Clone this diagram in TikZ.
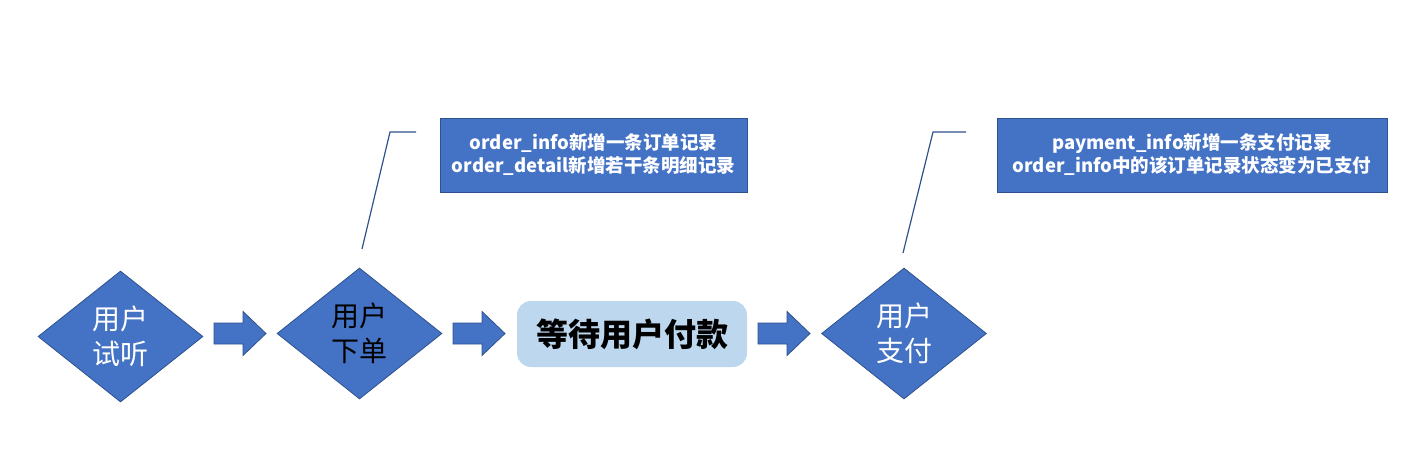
\documentclass[tikz,border=0pt]{standalone}
\usepackage{fontspec}
\setmainfont{Noto Sans CJK SC}
\usetikzlibrary{shapes.geometric}
\definecolor{fillblue}{HTML}{4472C4}
\definecolor{edgeblue}{HTML}{2F528F}
\definecolor{lightblue}{HTML}{BDD7EE}
\begin{document}
\begin{tikzpicture}[x=1pt,y=-1pt,
  decision/.style={diamond, fill=fillblue, draw=edgeblue, line width=0.8pt,
    minimum width=165pt, minimum height=131pt, inner sep=0pt,
    font=\fontsize{28}{35}\selectfont, align=center},
  blockarrow/.style={fill=fillblue, draw=edgeblue, line width=0.8pt},
  note/.style={rectangle, fill=fillblue, draw=edgeblue, line width=1pt, text=white,
    font=\bfseries\fontsize{18.5}{23}\selectfont, align=center, inner sep=0pt},
  waitbox/.style={rectangle, rounded corners=14pt, fill=lightblue, draw=none,
    minimum width=230pt, minimum height=66pt, inner sep=0pt,
    font=\bfseries\fontsize{32}{36}\selectfont},
  leader/.style={draw=edgeblue, line width=1.2pt}
]
\useasboundingbox (0,0) rectangle (1420,472);

% main flow
\node[decision, text=white] (d1) at (120.5,336.5) {用户\\试听};
\node[decision, text=black] (d2) at (359.5,333.5) {用户\\下单};
\node[waitbox] (w) at (632,334) {等待用户付款};
\node[decision, text=white] (d3) at (904,333.5) {用户\\支付};

% block arrows
\coordinate (a1) at (214,333.5);
\coordinate (a2) at (453,333.5);
\coordinate (a3) at (758,333.5);
\foreach \a in {a1,a2,a3}{
  \filldraw[blockarrow] (\a) ++(0,-10.5) -- ++(29,0) -- ++(0,-11.5) -- ++(23,22)
    -- ++(-23,22) -- ++(0,-11.5) -- ++(-29,0) -- cycle;
}

% callouts
\node[note, minimum width=307pt, minimum height=74pt] (n1) at (593.5,155)
  {order\_info新增一条订单记录\\order\_detail新增若干条明细记录};
\node[note, minimum width=390pt, minimum height=74pt] (n2) at (1192,155)
  {payment\_info新增一条支付记录\\order\_info中的该订单记录状态变为已支付};

\coordinate (l1a) at (362,249);
\coordinate (l1b) at (390,132);
\coordinate (l1c) at (416,132);
\draw[leader] (l1a) -- (l1b) -- (l1c);
\coordinate (l2a) at (903,253);
\coordinate (l2b) at (933,132);
\coordinate (l2c) at (966,132);
\draw[leader] (l2a) -- (l2b) -- (l2c);
\end{tikzpicture}
\end{document}
